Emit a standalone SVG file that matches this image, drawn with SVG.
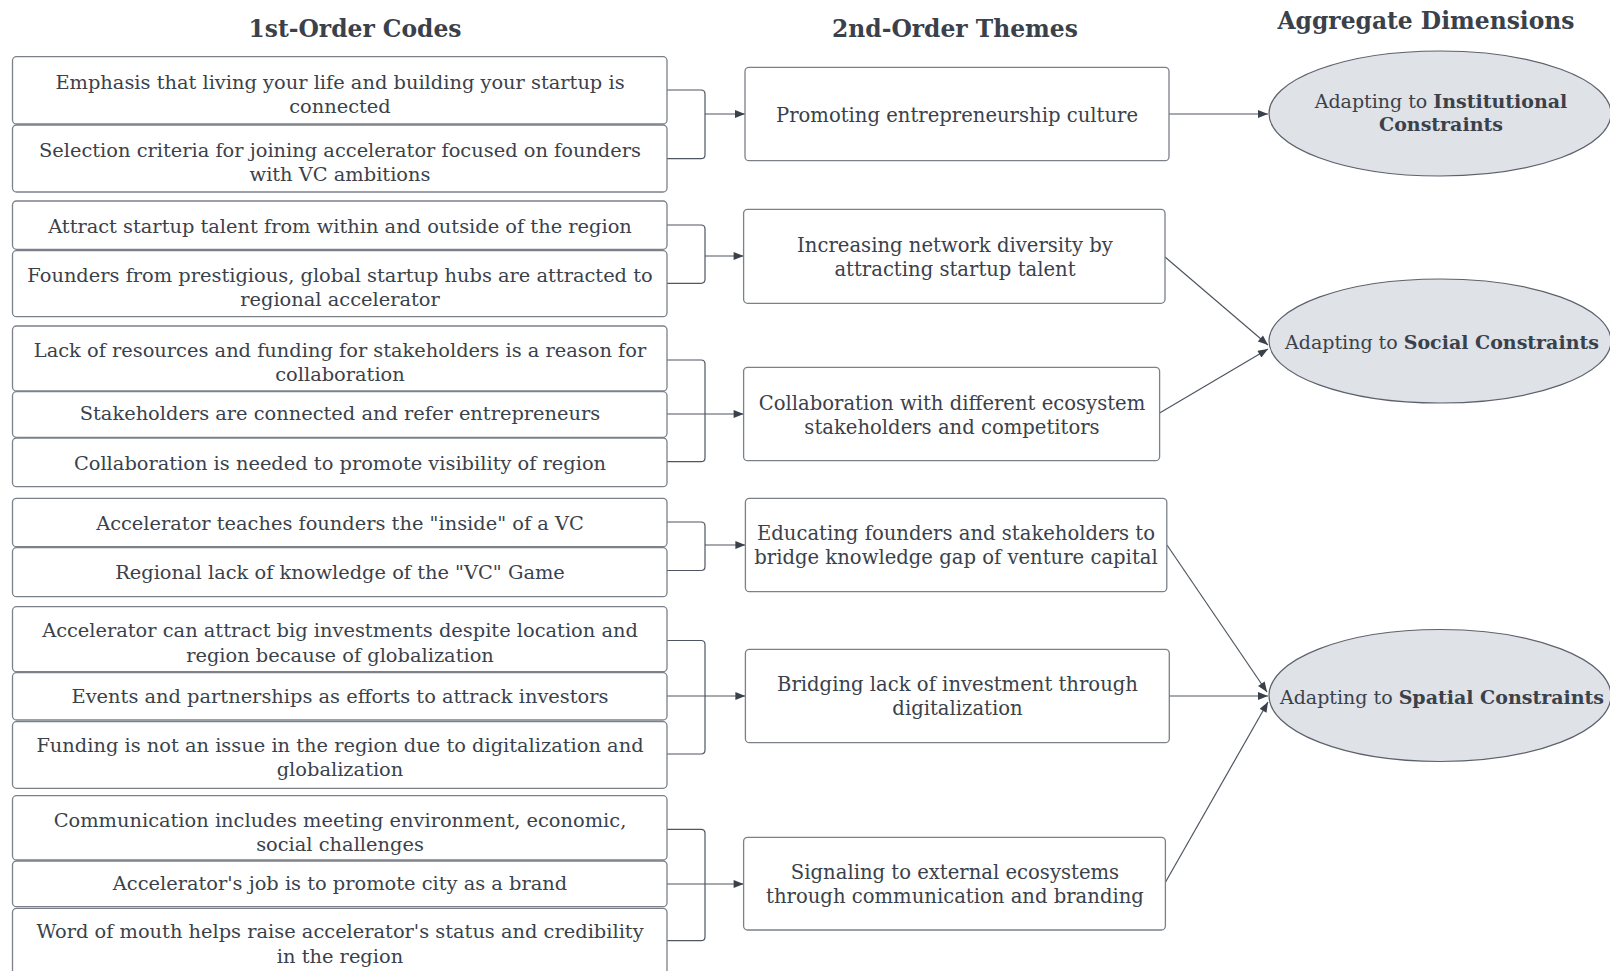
<svg xmlns="http://www.w3.org/2000/svg" width="1610" height="971" viewBox="0 0 1610 971">
<style>
text{font-family:"DejaVu Serif","Liberation Serif",serif;fill:#3a414a;text-anchor:middle}
.t{font-size:19.4px}
.m{font-size:19.6px}
.e{font-size:19px}
.h{font-size:23.4px;font-weight:bold}
.b{font-weight:bold}
.box{fill:#ffffff;stroke:#7b8089;stroke-width:1.3}
.ell{fill:#dfe2e7;stroke:#5c626c;stroke-width:1.2}
.c{fill:none;stroke:#4f5661;stroke-width:1.2}
</style>
<defs>
<marker id="ah" viewBox="0 0 10 8" refX="10" refY="4" markerWidth="11" markerHeight="8" markerUnits="userSpaceOnUse" orient="auto">
<path d="M0,0 L10,4 L0,8 Z" fill="#3a414a"/>
</marker>
</defs>
<rect width="1610" height="971" fill="#ffffff"/>
<g id="titles">
<text class="h" x="355" y="37">1st-Order Codes</text>
<text class="h" x="955" y="37">2nd-Order Themes</text>
<text class="h" x="1426" y="29">Aggregate Dimensions</text>
</g>
<g id="connectors">
<path class="c" d="M667,90 H701 Q705,90 705,94 V154.7 Q705,158.7 701,158.7 H667"/>
<path class="c" d="M705,114 H745" marker-end="url(#ah)"/>
<path class="c" d="M667,225 H701 Q705,225 705,229 V279.3 Q705,283.3 701,283.3 H667"/>
<path class="c" d="M705,256 H743.6" marker-end="url(#ah)"/>
<path class="c" d="M667,360 H701 Q705,360 705,364 V457.7 Q705,461.7 701,461.7 H667"/>
<path class="c" d="M667,414 H743.6" marker-end="url(#ah)"/>
<path class="c" d="M667,522 H701 Q705,522 705,526 V566.5 Q705,570.5 701,570.5 H667"/>
<path class="c" d="M705,545 H745.4" marker-end="url(#ah)"/>
<path class="c" d="M667,640.5 H701 Q705,640.5 705,644.5 V750 Q705,754 701,754 H667"/>
<path class="c" d="M667,696 H745.4" marker-end="url(#ah)"/>
<path class="c" d="M667,829.3 H701 Q705,829.3 705,833.3 V936.7 Q705,940.7 701,940.7 H667"/>
<path class="c" d="M667,884 H743.6" marker-end="url(#ah)"/>
<path class="c" d="M1169,114 H1268" marker-end="url(#ah)"/>
<path class="c" d="M1165,257 L1268,345" marker-end="url(#ah)"/>
<path class="c" d="M1159.6,413 L1268,349" marker-end="url(#ah)"/>
<path class="c" d="M1167,545 L1267,692" marker-end="url(#ah)"/>
<path class="c" d="M1169,696 H1268" marker-end="url(#ah)"/>
<path class="c" d="M1165,883 L1268,702" marker-end="url(#ah)"/>
</g>
<g id="code1"><rect class="box" x="12.5" y="56.7" width="654.5" height="67.3" rx="4"/><text class="t" x="340" y="89.3">Emphasis that living your life and building your startup is</text><text class="t" x="340" y="113">connected</text></g>
<g id="code2"><rect class="box" x="12.5" y="125" width="654.5" height="67" rx="4"/><text class="t" x="340" y="156.7">Selection criteria for joining accelerator focused on founders</text><text class="t" x="340" y="180.7">with VC ambitions</text></g>
<g id="code3"><rect class="box" x="12.5" y="201" width="654.5" height="48.3" rx="4"/><text class="t" x="340" y="233.3">Attract startup talent from within and outside of the region</text></g>
<g id="code4"><rect class="box" x="12.5" y="250.7" width="654.5" height="66" rx="4"/><text class="t" x="340" y="281.7">Founders from prestigious, global startup hubs are attracted to</text><text class="t" x="340" y="306">regional accelerator</text></g>
<g id="code5"><rect class="box" x="12.5" y="326" width="654.5" height="65" rx="4"/><text class="t" x="340" y="356.7">Lack of resources and funding for stakeholders is a reason for</text><text class="t" x="340" y="381">collaboration</text></g>
<g id="code6"><rect class="box" x="12.5" y="391.7" width="654.5" height="45.6" rx="4"/><text class="t" x="340" y="420">Stakeholders are connected and refer entrepreneurs</text></g>
<g id="code7"><rect class="box" x="12.5" y="438" width="654.5" height="48.7" rx="4"/><text class="t" x="340" y="470">Collaboration is needed to promote visibility of region</text></g>
<g id="code8"><rect class="box" x="12.5" y="498.3" width="654.5" height="48.4" rx="4"/><text class="t" x="340" y="530">Accelerator teaches founders the "inside" of a VC</text></g>
<g id="code9"><rect class="box" x="12.5" y="547.7" width="654.5" height="49" rx="4"/><text class="t" x="340" y="579.3">Regional lack of knowledge of the "VC" Game</text></g>
<g id="code10"><rect class="box" x="12.5" y="606.7" width="654.5" height="65" rx="4"/><text class="t" x="340" y="637.3">Accelerator can attract big investments despite location and</text><text class="t" x="340" y="661.7">region because of globalization</text></g>
<g id="code11"><rect class="box" x="12.5" y="672.7" width="654.5" height="47.3" rx="4"/><text class="t" x="340" y="703.3">Events and partnerships as efforts to attrack investors</text></g>
<g id="code12"><rect class="box" x="12.5" y="721.7" width="654.5" height="66.6" rx="4"/><text class="t" x="340" y="751.7">Funding is not an issue in the region due to digitalization and</text><text class="t" x="340" y="776">globalization</text></g>
<g id="code13"><rect class="box" x="12.5" y="795.7" width="654.5" height="64.3" rx="4"/><text class="t" x="340" y="826.7">Communication includes meeting environment, economic,</text><text class="t" x="340" y="850.7">social challenges</text></g>
<g id="code14"><rect class="box" x="12.5" y="861" width="654.5" height="45.7" rx="4"/><text class="t" x="340" y="890">Accelerator's job is to promote city as a brand</text></g>
<g id="code15"><rect class="box" x="12.5" y="908.3" width="654.5" height="70" rx="4"/><text class="t" x="340" y="937.7">Word of mouth helps raise accelerator's status and credibility</text><text class="t" x="340" y="962.7">in the region</text></g>
<g id="theme1"><rect class="box" x="745" y="67.3" width="424" height="93.4" rx="4"/><text class="m" x="957" y="121.7">Promoting entrepreneurship culture</text></g>
<g id="theme2"><rect class="box" x="743.6" y="209.3" width="421.4" height="94" rx="4"/><text class="m" x="955" y="252">Increasing network diversity by</text><text class="m" x="955" y="276">attracting startup talent</text></g>
<g id="theme3"><rect class="box" x="743.6" y="367.3" width="416" height="93.4" rx="4"/><text class="m" x="952" y="410">Collaboration with different ecosystem</text><text class="m" x="952" y="434.3">stakeholders and competitors</text></g>
<g id="theme4"><rect class="box" x="745.4" y="498.3" width="421.4" height="93.4" rx="4"/><text class="m" x="956" y="540">Educating founders and stakeholders to</text><text class="m" x="956" y="564.3">bridge knowledge gap of venture capital</text></g>
<g id="theme5"><rect class="box" x="745.4" y="649.3" width="423.9" height="93.4" rx="4"/><text class="m" x="957.5" y="690.7">Bridging lack of investment through</text><text class="m" x="957.5" y="715">digitalization</text></g>
<g id="theme6"><rect class="box" x="743.6" y="837.3" width="421.8" height="92.7" rx="4"/><text class="m" x="955" y="879.3">Signaling to external ecosystems</text><text class="m" x="955" y="903.3">through communication and branding</text></g>
<g id="dim1"><ellipse class="ell" cx="1440" cy="113.5" rx="171" ry="62.5"/><text class="e" x="1441" y="107.7">Adapting to <tspan class="b">Institutional</tspan></text><text class="e b" x="1441" y="131">Constraints</text></g>
<g id="dim2"><ellipse class="ell" cx="1440" cy="341" rx="171" ry="62"/><text class="e" x="1442" y="349.3">Adapting to <tspan class="b">Social Constraints</tspan></text></g>
<g id="dim3"><ellipse class="ell" cx="1440" cy="695.5" rx="171" ry="66"/><text class="e" x="1442" y="704">Adapting to <tspan class="b">Spatial Constraints</tspan></text></g>
</svg>
